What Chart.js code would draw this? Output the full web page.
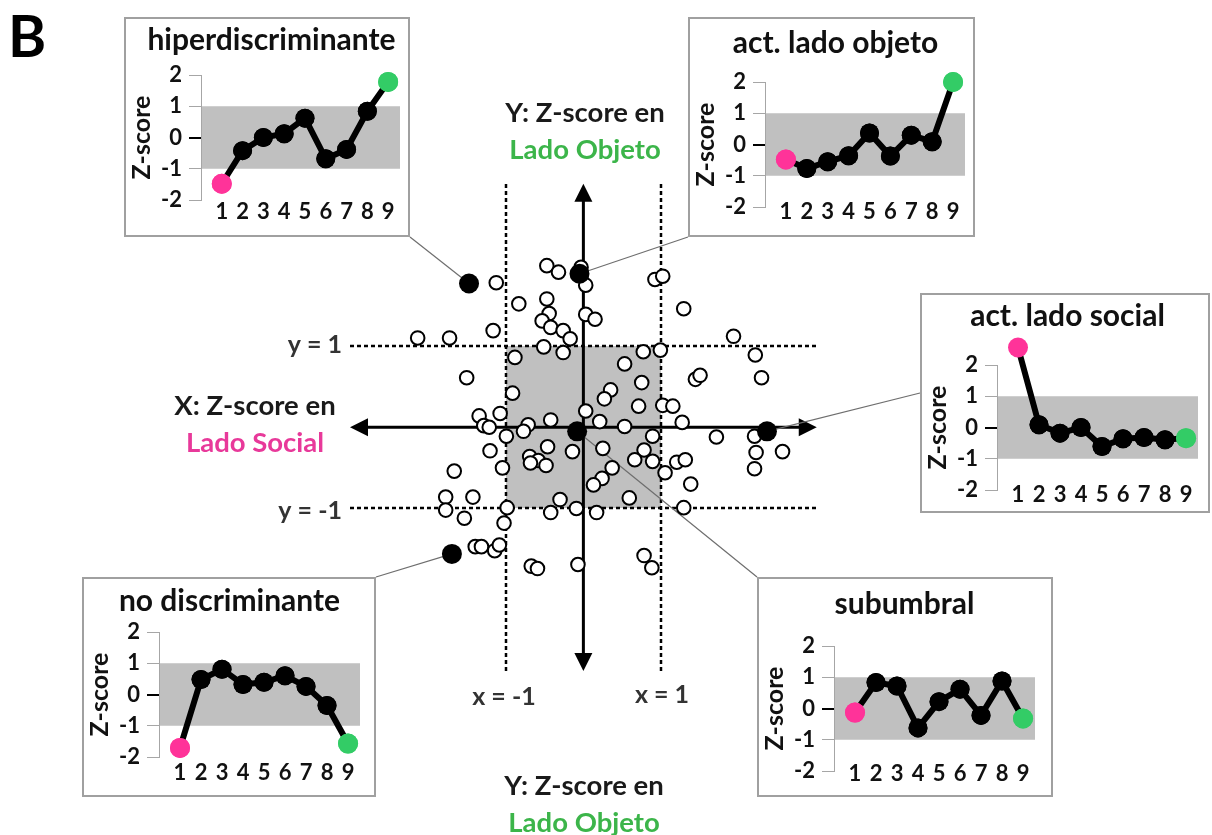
<!DOCTYPE html>
<html>
<head>
<meta charset="utf-8">
<script src="https://cdn.jsdelivr.net/npm/chart.js@4.4.0/dist/chart.umd.min.js"></script>
<style>
  body { margin: 0; background: #fff; overflow: hidden; }
  #page { position: relative; width: 1212px; height: 835px; }
  #scatter { position: absolute; left: 0; top: 0; }
  .inset { position: absolute; }
</style>
</head>
<body>
<div id="page">
  <canvas id="scatter" width="1212" height="835"></canvas>
  <canvas id="hiper" class="inset"></canvas>
  <canvas id="objeto" class="inset"></canvas>
  <canvas id="social" class="inset"></canvas>
  <canvas id="nodisc" class="inset"></canvas>
  <canvas id="subumbral" class="inset"></canvas>
</div>
<script>
// z-scores of each unit: x = lado social, y = lado objeto
const openX = [-1.12, -0.47, -0.32, -0.03, 0.03, -0.83, -0.47, -0.44, -0.53, -0.42,
  -0.26, -0.17, 0.03, 0.15, -2.13, -1.72, -1.16, -0.51, -0.26, -0.88,
  -1.50, -0.91, 0.35, 0.27, -1.34, -1.07, -1.28, -1.21, -0.42, -0.71,
  -0.77, -0.99, 0.03, 0.21, 0.92, 1.02, 1.29, 1.93, 0.77, 0.99,
  2.21, 0.53, 0.75, 1.44, 1.50, 2.29, 0.71, 1.02, 1.15, 0.53,
  1.27, 0.89, 1.71, 2.20, -1.20, -0.46, -0.69, -0.58, -0.68, -0.48,
  -0.14, 0.25, 0.37, -1.04, -1.66, 0.24, 0.13, -1.77, -1.42, -1.77,
  -1.53, -0.98, -0.30, -0.42, -0.09, 0.17, -1.02, -1.39, -1.31, -1.14,
  -1.08, -0.67, -0.59, -0.07, 2.22, 2.56, 2.20, 0.78, 0.66, 0.89,
  1.05, 1.20, 1.31, 1.38, 0.59, 1.29, 0.78, 0.88];
const openY = [1.78, 1.99, 1.91, 1.97, 1.75, 1.52, 1.58, 1.40, 1.31, 1.23,
  1.19, 1.09, 1.39, 1.33, 1.10, 1.10, 1.19, 0.99, 0.92, 0.86,
  0.61, 0.42, 0.46, 0.35, 0.14, 0.17, 0.02, 0.00, 0.09, 0.03,
  -0.05, -0.11, 0.20, 0.07, 1.82, 1.86, 1.46, 1.12, 0.93, 0.95,
  0.89, 0.78, 0.55, 0.59, 0.64, 0.61, 0.26, 0.27, 0.26, 0.01,
  0.06, -0.11, -0.12, -0.11, -0.29, -0.24, -0.36, -0.41, -0.44, -0.47,
  -0.30, -0.26, -0.50, -0.50, -0.54, -0.63, -0.71, -0.86, -0.86, -1.02,
  -1.12, -0.99, -0.89, -1.05, -1.00, -1.05, -1.18, -1.47, -1.47, -1.52,
  -1.45, -1.71, -1.74, -1.69, -0.31, -0.30, -0.51, -0.28, -0.40, -0.42,
  -0.56, -0.43, -0.40, -0.70, -0.87, -0.99, -1.58, -1.73];

// the five example units, in the same order as the profile panels
const exampleX = [-1.47, -0.05, 2.36, -1.69, -0.08];
const exampleY = [1.77, 1.89, -0.05, -1.56, -0.05];

// per-item z-score profiles (item 1 = lado social, item 9 = lado objeto)
const items = [1, 2, 3, 4, 5, 6, 7, 8, 9];
const zTicks = [-2, -1, 0, 1, 2];
const hiperValues = [-1.48, -0.42, 0.0, 0.12, 0.62, -0.68, -0.38, 0.84, 1.78];
const objetoValues = [-0.48, -0.77, -0.55, -0.36, 0.37, -0.37, 0.30, 0.09, 2.0];
const socialValues = [2.56, 0.09, -0.18, 0.0, -0.61, -0.36, -0.32, -0.39, -0.34];
const nodiscValues = [-1.71, 0.48, 0.81, 0.32, 0.39, 0.60, 0.26, -0.35, -1.57];
const subumbralValues = [-0.13, 0.83, 0.72, -0.62, 0.22, 0.62, -0.22, 0.88, -0.32];

const FONT = 'Lato, "Open Sans", sans-serif';
const PINK = '#ff3399';
const GREEN = '#33cc66';
const PINK_TEXT = '#e8399a';
const GREEN_TEXT = '#3cb54a';
const SHADE = '#c0c0c0';

// panel boxes on the page
const boxes = {
  hiper:     { left: 124, top: 17,  w: 286, h: 220, plotTop: 58, labelOff: 12, anchor: 'br' },
  objeto:    { left: 688, top: 17,  w: 287, h: 220, plotTop: 65, labelOff: 5,  anchor: 'bl' },
  social:    { left: 920, top: 293, w: 290, h: 220, plotTop: 72, labelOff: 5,  anchor: 'l' },
  nodisc:    { left: 82,  top: 577, w: 294, h: 220, plotTop: 55, labelOff: 16, anchor: 'tr' },
  subumbral: { left: 757, top: 577, w: 296, h: 220, plotTop: 69, labelOff: 3,  anchor: 'tl' }
};
const boxOrder = ['hiper', 'objeto', 'social', 'nodisc', 'subumbral'];

function anchorPoint(b) {
  if (b.anchor === 'br') return [b.left + b.w, b.top + b.h];
  if (b.anchor === 'bl') return [b.left, b.top + b.h];
  if (b.anchor === 'tr') return [b.left + b.w, b.top];
  if (b.anchor === 'tl') return [b.left, b.top];
  return [b.left, b.top + b.h / 2 - 10];
}

// main scatter: origin at (583, 427.5), 79.1 px per unit in x, 83.2 in y
const originPx = 583, originPy = 427.5, unitX = 79.1, unitY = 83.2;
const LIMIT = 3;

const decorPlugin = {
  id: 'decor',
  beforeDatasetsDraw(chart) {
    const { ctx, scales: { x, y } } = chart;
    const px = v => Math.round(x.getPixelForValue(v));
    const py = v => Math.round(y.getPixelForValue(v));
    ctx.save();
    // shaded |z| < 1 square
    ctx.fillStyle = SHADE;
    ctx.fillRect(px(-1), py(1), px(1) - px(-1), py(-1) - py(1));

    // threshold lines
    ctx.strokeStyle = '#000';
    ctx.lineWidth = 2.5;
    ctx.setLineDash([4, 3]);
    [-1, 1].forEach(v => {
      ctx.beginPath();
      ctx.moveTo(px(v), py(LIMIT));
      ctx.lineTo(px(v), py(-LIMIT));
      ctx.stroke();
      ctx.beginPath();
      ctx.moveTo(px(-LIMIT), py(v));
      ctx.lineTo(px(LIMIT), py(v));
      ctx.stroke();
    });
    ctx.setLineDash([]);

    // double-headed axes
    ctx.strokeStyle = '#000';
    ctx.fillStyle = '#000';
    ctx.lineWidth = 3;
    const x0 = x.getPixelForValue(0), y0 = y.getPixelForValue(0);
    const xl = x.getPixelForValue(-LIMIT), xr = x.getPixelForValue(LIMIT);
    const yt = y.getPixelForValue(LIMIT), yb = y.getPixelForValue(-LIMIT);
    const head = 18, half = 9;
    ctx.beginPath();
    ctx.moveTo(xl + head - 2, y0); ctx.lineTo(xr - head + 2, y0);
    ctx.moveTo(x0, yt + head - 2); ctx.lineTo(x0, yb - head + 2);
    ctx.stroke();
    const tri = (pts) => { ctx.beginPath(); ctx.moveTo(...pts[0]); ctx.lineTo(...pts[1]); ctx.lineTo(...pts[2]); ctx.closePath(); ctx.fill(); };
    tri([[xl, y0], [xl + head, y0 - half], [xl + head, y0 + half]]);
    tri([[xr, y0], [xr - head, y0 - half], [xr - head, y0 + half]]);
    tri([[x0, yt], [x0 - half, yt + head], [x0 + half, yt + head]]);
    tri([[x0, yb], [x0 - half, yb - head], [x0 + half, yb - head]]);

    // leader lines to the profile panels
    ctx.strokeStyle = '#6e6e6e';
    ctx.lineWidth = 1.2;
    boxOrder.forEach((key, i) => {
      const [ax, ay] = anchorPoint(boxes[key]);
      ctx.beginPath();
      ctx.moveTo(x.getPixelForValue(exampleX[i]), y.getPixelForValue(exampleY[i]));
      ctx.lineTo(ax, ay);
      ctx.stroke();
    });
    ctx.restore();
  },
  afterDraw(chart) {
    const { ctx } = chart;
    ctx.save();
    ctx.textBaseline = 'middle';
    ctx.fillStyle = '#000';
    ctx.font = 'bold 58px ' + FONT;
    ctx.textAlign = 'left';
    ctx.fillText('B', 8, 38);

    ctx.textAlign = 'center';
    ctx.font = 'bold 27.5px ' + FONT;
    const pair = (cx, ty, head, side, color) => {
      ctx.fillStyle = '#1a1a1a';
      ctx.fillText(head, cx, ty);
      ctx.fillStyle = color;
      ctx.fillText(side, cx, ty + 37);
    };
    pair(585, 113, 'Y: Z-score en', 'Lado Objeto', GREEN_TEXT);
    pair(255, 406, 'X: Z-score en', 'Lado Social', PINK_TEXT);
    pair(584, 786, 'Y: Z-score en', 'Lado Objeto', GREEN_TEXT);

    ctx.fillStyle = '#333';
    ctx.font = 'bold 25px ' + FONT;
    ctx.textAlign = 'right';
    ctx.fillText('y = 1', 342, 345);
    ctx.fillText('y = -1', 342, 511);
    ctx.textAlign = 'center';
    ctx.fillText('x = -1', 504, 697);
    ctx.fillText('x = 1', 662, 695);
    ctx.restore();
  }
};

new Chart(document.getElementById('scatter'), {
  type: 'scatter',
  data: {
    datasets: [
      {
        data: exampleX.map((v, i) => ({ x: v, y: exampleY[i] })),
        backgroundColor: '#000', borderColor: '#000', borderWidth: 0,
        pointRadius: 10, order: 0
      },
      {
        data: openX.map((v, i) => ({ x: v, y: openY[i] })),
        backgroundColor: '#fff', borderColor: '#000', borderWidth: 2,
        pointRadius: 6.8, order: 1
      }
    ]
  },
  options: {
    responsive: false,
    animation: false,
    layout: { padding: 0 },
    plugins: { legend: { display: false }, tooltip: { enabled: false } },
    scales: {
      x: { type: 'linear', display: false, min: -originPx / unitX, max: (1212 - originPx) / unitX },
      y: { type: 'linear', display: false, min: -(835 - originPy) / unitY, max: originPy / unitY }
    }
  },
  plugins: [decorPlugin]
});

// profile panels
const panelPlugin = {
  id: 'panel',
  beforeDraw(chart, args, opts) {
    const { ctx, chartArea, scales: { y } } = chart;
    ctx.save();
    ctx.fillStyle = '#fff';
    ctx.fillRect(0, 0, chart.width, chart.height);
    ctx.strokeStyle = '#a0a0a0';
    ctx.lineWidth = 2;
    ctx.strokeRect(1, 1, chart.width - 2, chart.height - 2);
    ctx.fillStyle = SHADE;
    ctx.fillRect(chartArea.left + 1, y.getPixelForValue(1), chartArea.right - chartArea.left - 1,
      y.getPixelForValue(-1) - y.getPixelForValue(1));
    ctx.fillStyle = '#111';
    ctx.font = 'bold 30px ' + FONT;
    ctx.textAlign = 'center';
    ctx.textBaseline = 'middle';
    ctx.fillText(opts.title, 147.5, opts.titleY);
    ctx.restore();
  },
  afterDatasetsDraw(chart) {
    // points above z = 2 still get their marker
    chart.getDatasetMeta(0).data.forEach(p => p.draw(chart.ctx));
  },
  afterDraw(chart, args, opts) {
    const { ctx, chartArea, scales: { x } } = chart;
    ctx.save();
    ctx.fillStyle = '#111';
    ctx.font = 'bold 22px ' + FONT;
    ctx.textAlign = 'center';
    ctx.textBaseline = 'middle';
    items.forEach(v => ctx.fillText(String(v), x.getPixelForValue(v), chartArea.bottom + opts.labelOff));
    ctx.restore();
  }
};

function drawProfile(id, title, titleY, values) {
  const b = boxes[id];
  const canvas = document.getElementById(id);
  canvas.width = b.w;
  canvas.height = b.h;
  canvas.style.left = b.left + 'px';
  canvas.style.top = b.top + 'px';
  const plotBottom = b.plotTop + 125;
  const last = values.length - 1;
  new Chart(canvas, {
    type: 'line',
    data: {
      datasets: [{
        data: values.map((v, i) => ({ x: items[i], y: v })),
        borderColor: '#000',
        borderWidth: 6,
        tension: 0,
        clip: false,
        pointRadius: values.map((v, i) => (i === 0 || i === last) ? 10 : 9.5),
        pointBackgroundColor: values.map((v, i) => i === 0 ? PINK : (i === last ? GREEN : '#000')),
        pointBorderWidth: 0
      }]
    },
    options: {
      responsive: false,
      animation: false,
      layout: { padding: { left: 0, top: b.plotTop, right: b.w - 278, bottom: b.h - plotBottom - 30 } },
      plugins: {
        legend: { display: false },
        tooltip: { enabled: false },
        panel: { title: title, titleY: titleY, labelOff: b.labelOff }
      },
      scales: {
        x: {
          type: 'linear', min: 0, max: 9.57,
          afterBuildTicks: s => { s.ticks = items.map(v => ({ value: v })); },
          afterFit: s => { s.height = 30; },
          grid: { display: false, drawTicks: false },
          border: { display: false },
          ticks: { display: false }
        },
        y: {
          type: 'linear', min: -2, max: 2,
          afterBuildTicks: s => { s.ticks = zTicks.map(v => ({ value: v })); },
          afterFit: s => { s.width = 77; },
          grid: {
            drawOnChartArea: false, drawTicks: true, tickLength: 12,
            color: c => c.tick && c.tick.value === 0 ? '#000' : '#a6a6a6',
            lineWidth: c => c.tick && c.tick.value === 0 ? 2 : 1
          },
          border: { color: '#a6a6a6', width: 1 },
          ticks: { padding: 7, color: '#111', font: { family: FONT, weight: 'bold', size: 22, lineHeight: 1 } },
          title: { display: true, text: 'Z-score', color: '#111', padding: { top: 5, bottom: 0 },
                   font: { family: FONT, weight: 'bold', size: 25, lineHeight: 1 } }
        }
      }
    },
    plugins: [panelPlugin]
  });
}

drawProfile('hiper', 'hiperdiscriminante', 23, hiperValues);
drawProfile('objeto', 'act. lado objeto', 26, objetoValues);
drawProfile('social', 'act. lado social', 23, socialValues);
drawProfile('nodisc', 'no discriminante', 24, nodiscValues);
drawProfile('subumbral', 'subumbral', 27, subumbralValues);
</script>
</body>
</html>
